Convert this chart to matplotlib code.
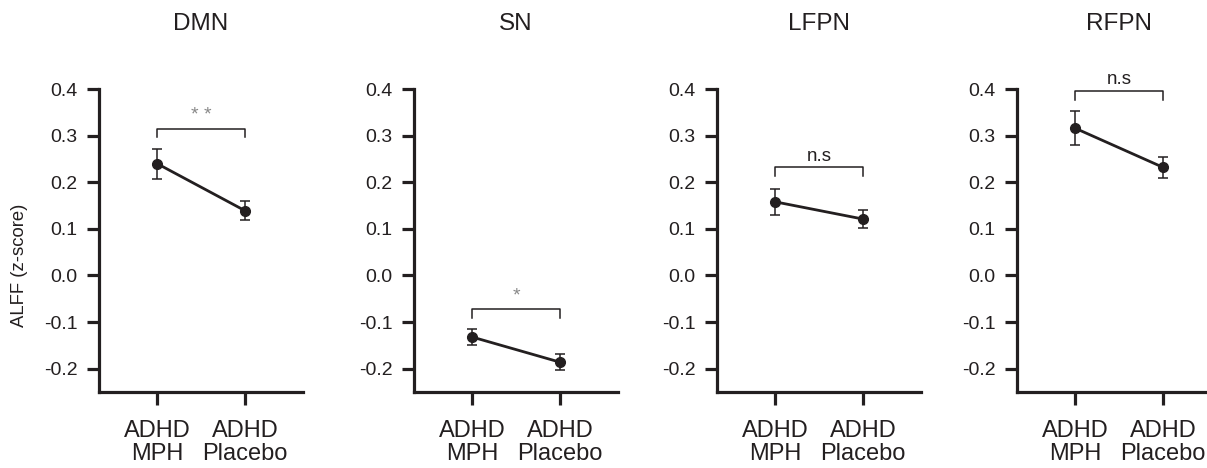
import matplotlib
matplotlib.use('Agg')
import matplotlib.pyplot as plt

plt.rcParams['font.family'] = ['Liberation Sans', 'DejaVu Sans']

networks = ['DMN', 'SN', 'LFPN', 'RFPN']
groups = ['ADHD\nMPH', 'ADHD\nPlacebo']
means_mph = [0.240, -0.132, 0.158, 0.316]
means_plc = [0.139, -0.186, 0.121, 0.232]
err_mph = [0.032, 0.018, 0.028, 0.036]
err_plc = [0.021, 0.017, 0.020, 0.023]
sig_labels = ['* *', '*', 'n.s', 'n.s']
bracket_y = [0.315, -0.073, 0.232, 0.396]
yticks = [-0.2, -0.1, 0.0, 0.1, 0.2, 0.3, 0.4]

ink = '#231f20'
W, H = 1207, 468
fig = plt.figure(figsize=(W / 100, H / 100), dpi=100)

lefts = [99, 414, 717, 1017]
for i, name in enumerate(networks):
    ax = fig.add_axes([lefts[i] / W, (H - 392) / H, 204 / W, 303 / H])
    x = [0, 1]
    ax.errorbar(x, [means_mph[i], means_plc[i]], yerr=[err_mph[i], err_plc[i]],
                color=ink, lw=2, marker='o', ms=7, elinewidth=1.1,
                capsize=3.8, capthick=1.1, zorder=3)
    ax.set_xlim(-0.66, 1.66)
    ax.set_ylim(-0.25, 0.4)
    ax.set_xticks(x)
    ax.set_xticklabels(groups, fontsize=17, linespacing=1.05)
    ax.set_yticks(yticks)
    ax.set_yticklabels(['%.1f' % v for v in yticks], fontsize=14)
    for s in ['top', 'right']:
        ax.spines[s].set_visible(False)
    for s in ['left', 'bottom']:
        ax.spines[s].set_linewidth(2.3)
        ax.spines[s].set_color(ink)
    ax.tick_params(axis='y', length=8.5, width=2.3, pad=7, colors=ink)
    ax.tick_params(axis='x', length=9.5, width=2.3, pad=11, colors=ink)

    by = bracket_y[i]
    ax.plot([0, 0, 1, 1], [by - 0.019, by, by, by - 0.019], color=ink, lw=1.1,
            clip_on=False)
    if '*' in sig_labels[i]:
        ax.text(0.5, by + 0.028, sig_labels[i], ha='center', va='center',
                fontsize=14, color='#888888')
    else:
        ax.text(0.5, by + 0.006, sig_labels[i], ha='center', va='bottom',
                fontsize=13.5, color=ink)

    ax.text(0.5, (392 - 24) / 303, name, transform=ax.transAxes,
            ha='center', va='center', fontsize=17.5, color=ink)

fig.text(20 / W, 1 - 265 / H, 'ALFF (z-score)', rotation=90, ha='center',
         va='center', fontsize=13.3, color=ink)

fig.savefig('out.png', dpi=100)
